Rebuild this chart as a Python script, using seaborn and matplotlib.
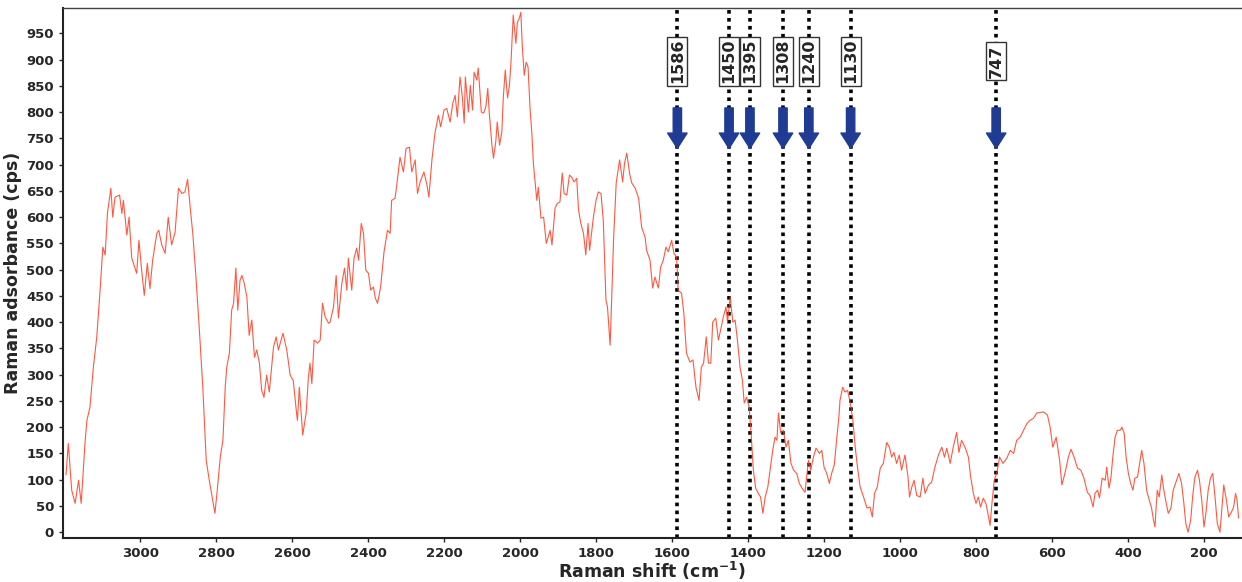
import numpy as np
import pandas as pd
import matplotlib
matplotlib.use("Agg")
import matplotlib.pyplot as plt
import seaborn as sns

# spectrum, in pieces (Raman shift cm-1 / counts)
shift_a = [3195, 3189, 3180, 3171, 3162, 3155, 3145, 3140, 3132, 3123,
           3114, 3105, 3098, 3092, 3086, 3077, 3072, 3066, 3054, 3048,
           3044, 3035, 3029, 3022, 3009, 3003, 2996, 2989, 2981, 2974,
           2967, 2956, 2951, 2943, 2934, 2926, 2917, 2908, 2899, 2890,
           2882, 2875, 2867, 2861, 2853, 2844, 2835, 2826, 2818, 2809,
           2803, 2797, 2789, 2782, 2776, 2772, 2765, 2759, 2754, 2748,
           2743, 2737, 2732, 2726, 2719, 2713, 2706, 2699, 2693, 2686,
           2680, 2674, 2667, 2660, 2649, 2642, 2636, 2624, 2614, 2605,
           2597, 2589, 2586, 2581, 2572, 2563, 2557, 2553, 2548, 2542,
           2533, 2526, 2520, 2513, 2504]
counts_a = [109, 169, 80, 55, 99, 55, 170, 213, 238, 314,
            372, 464, 543, 528, 607, 655, 600, 638, 642, 607,
            632, 566, 600, 522, 493, 556, 499, 451, 512, 464,
            518, 569, 575, 547, 531, 600, 547, 571, 655, 645,
            648, 672, 610, 566, 486, 385, 276, 137, 99, 61,
            36, 80, 143, 175, 276, 314, 341, 423, 436, 503,
            423, 480, 489, 474, 448, 375, 404, 333, 347, 322,
            270, 257, 299, 267, 352, 372, 347, 379, 347, 299,
            289, 232, 213, 276, 185, 227, 295, 322, 283, 366,
            360, 366, 436, 410, 398]

shift_b = [2500, 2491, 2484, 2478, 2469, 2462, 2456, 2452, 2443, 2437,
           2430, 2425, 2418, 2412, 2406, 2399, 2393, 2386, 2381, 2375,
           2367, 2358, 2349, 2342, 2338, 2329, 2324, 2316, 2307, 2300,
           2291, 2285, 2276, 2270, 2263, 2253, 2245, 2240, 2232, 2224,
           2215, 2209, 2200, 2193, 2184, 2177, 2171, 2165, 2158, 2152,
           2147, 2144, 2136, 2131, 2125, 2121, 2114, 2110, 2102, 2096,
           2090, 2085, 2081, 2074, 2070, 2064, 2060, 2054, 2048, 2044,
           2039, 2033, 2028, 2024, 2018, 2011, 2007, 2002, 1998, 1994,
           1989, 1984, 1979, 1974, 1969, 1965, 1956, 1952, 1945, 1938,
           1931, 1921, 1916, 1908, 1902, 1895, 1889, 1884, 1877, 1870,
           1864, 1858, 1851, 1846, 1840, 1833, 1827, 1821, 1817, 1811]
counts_b = [400, 429, 489, 408, 474, 503, 461, 522, 461, 522,
            541, 518, 588, 569, 499, 493, 461, 467, 446, 436,
            467, 534, 575, 569, 632, 636, 664, 714, 686, 731,
            733, 686, 709, 645, 667, 686, 661, 638, 709, 760,
            794, 772, 804, 807, 781, 817, 832, 791, 867, 829,
            779, 867, 800, 851, 804, 876, 861, 884, 800, 798,
            810, 845, 798, 737, 712, 743, 781, 737, 762, 829,
            880, 827, 851, 893, 985, 931, 971, 979, 990, 924,
            870, 895, 886, 810, 760, 703, 632, 657, 598, 600,
            550, 575, 547, 617, 626, 629, 684, 645, 642, 680,
            676, 667, 674, 613, 588, 569, 528, 588, 537, 575]

shift_c = [1807, 1800, 1794, 1787, 1781, 1774, 1770, 1763, 1759, 1754,
           1747, 1738, 1730, 1725, 1719, 1712, 1706, 1697, 1688, 1680,
           1671, 1667, 1658, 1651, 1645, 1636, 1630, 1623, 1616, 1610,
           1601, 1595, 1588, 1584, 1575, 1569, 1562, 1553, 1545, 1537,
           1529, 1523, 1517, 1510, 1504, 1498, 1493, 1485, 1478, 1471,
           1465, 1458, 1454, 1447, 1440, 1434, 1428, 1421, 1415, 1410,
           1404, 1397, 1392, 1386, 1380, 1373, 1367, 1361, 1355, 1348,
           1342, 1335, 1329, 1324, 1320, 1314, 1307, 1300, 1294, 1287,
           1280, 1272, 1265, 1258, 1250, 1241, 1235, 1228, 1221, 1212,
           1206, 1200, 1193, 1186, 1180, 1173, 1167, 1161]
counts_c = [600, 632, 648, 645, 594, 442, 429, 356, 442, 556,
            665, 709, 667, 703, 722, 684, 665, 655, 636, 581,
            562, 537, 518, 465, 486, 465, 505, 518, 543, 534,
            556, 531, 524, 461, 455, 417, 341, 324, 328, 276,
            251, 314, 322, 372, 322, 322, 400, 408, 366, 389,
            410, 429, 400, 448, 400, 404, 366, 314, 290, 246,
            257, 238, 189, 118, 84, 74, 67, 36, 67, 86,
            118, 156, 181, 175, 227, 189, 194, 162, 175, 131,
            118, 112, 93, 84, 76, 137, 118, 143, 160, 150,
            156, 124, 112, 93, 112, 128, 175, 219]

shift_d = [1158, 1151, 1145, 1138, 1131, 1124, 1118, 1112, 1105, 1096,
           1087, 1079, 1073, 1067, 1060, 1052, 1044, 1035, 1028, 1022,
           1016, 1009, 1002, 996, 987, 979, 975, 969, 963, 956,
           947, 940, 934, 925, 917, 908, 899, 890, 883, 877,
           868, 860, 851, 845, 838, 829, 820, 814, 807, 800,
           794, 788, 781, 774, 767, 763, 759, 752, 745, 738,
           729, 719, 710, 701, 693, 684, 675, 666, 658, 649,
           640]
counts_d = [251, 276, 267, 270, 246, 213, 162, 124, 86, 67,
            46, 48, 29, 74, 86, 122, 131, 171, 162, 143,
            152, 131, 147, 118, 147, 105, 67, 86, 99, 70,
            67, 103, 74, 90, 95, 124, 147, 162, 143, 160,
            131, 162, 190, 152, 175, 162, 143, 105, 74, 55,
            67, 48, 65, 55, 29, 13, 48, 99, 114, 143,
            131, 141, 156, 150, 175, 181, 194, 207, 213, 217,
            227]

shift_e = [622, 612, 605, 598, 589, 580, 574, 566, 557, 550,
           542, 533, 524, 516, 507, 500, 492, 487, 480, 475,
           468, 460, 456, 450, 445, 440, 434, 428, 421, 416,
           410, 405, 399, 393, 387, 382, 375, 368, 364, 358,
           351, 344, 338, 333, 329, 326, 323, 318, 311, 307,
           301, 294, 287, 281, 274, 266, 259, 253, 248, 242,
           235, 230, 224, 217, 212, 206, 200, 195, 189, 183,
           177, 171, 165, 158, 154, 148, 141, 135, 128, 122,
           117, 113, 109]
counts_e = [229, 223, 200, 162, 181, 137, 90, 112, 143, 158,
            143, 122, 118, 103, 76, 70, 48, 74, 80, 65,
            103, 99, 124, 84, 103, 143, 181, 194, 194, 200,
            188, 143, 112, 93, 80, 103, 105, 137, 156, 131,
            80, 61, 46, 23, 10, 48, 80, 67, 109, 86,
            61, 36, 46, 80, 95, 112, 93, 55, 17, 0,
            23, 67, 105, 118, 99, 61, 10, 36, 80, 103,
            112, 67, 17, 0, 36, 90, 61, 29, 38, 48,
            74, 61, 27]

peaks = [1586, 1450, 1395, 1308, 1240, 1130, 747]
peak_labels = ["1586", "1450", "1395", "1308", "1240", "1130", "747"]

xticks = [3000, 2800, 2600, 2400, 2200, 2000, 1800, 1600, 1400, 1200, 1000, 800, 600, 400, 200]
yticks = list(range(0, 1000, 50))

spec = pd.DataFrame({
    "shift": np.concatenate([shift_a, shift_b, shift_c, shift_d, shift_e]),
    "counts": np.concatenate([counts_a, counts_b, counts_c, counts_d, counts_e]),
})

sns.set_style("ticks")
plt.rcParams["font.family"] = ["DejaVu Sans"]
plt.rcParams["mathtext.default"] = "bf"

fig = plt.figure(figsize=(12.42, 5.82), dpi=100)
ax = fig.add_axes([0.0507, 0.0756, 0.9493, 0.9104])

# dotted peak markers first so the spectrum sits on top
for p in peaks:
    ax.axvline(p, color="black", ls=(0, (1, 1.2)), lw=2.6, zorder=1)

sns.lineplot(data=spec, x="shift", y="counts", sort=False, estimator=None,
             color="#ff3b20", lw=0.8, alpha=0.85, ax=ax, zorder=3)

for p, lab in zip(peaks, peak_labels):
    ax.text(p, 897, lab, rotation=90, ha="center", va="center",
            fontsize=11.5, fontweight="bold", zorder=5,
            bbox=dict(boxstyle="square,pad=0.15", fc="white", ec="#333333", lw=1))
    ax.annotate("", xy=(p, 731), xytext=(p, 808), zorder=5,
                arrowprops=dict(facecolor="#1f3b94", edgecolor="#1f3b94",
                                width=6, headwidth=14, headlength=11, shrink=0))

ax.set_xlim(3203, 100)
ax.set_ylim(-11, 998)
ax.set_xticks(xticks)
ax.set_yticks(yticks)
ax.tick_params(labelsize=9.5, length=3, width=1)
for t in ax.get_xticklabels() + ax.get_yticklabels():
    t.set_fontweight("bold")

ax.set_xlabel(r"Raman shift (cm$^{-1}$)", fontsize=12.5, fontweight="bold", labelpad=0)
ax.set_ylabel("Raman adsorbance (cps)", fontsize=12.5, fontweight="bold", labelpad=3)

ax.spines["right"].set_visible(False)
ax.spines["left"].set_linewidth(1.5)
ax.spines["bottom"].set_linewidth(1.5)
ax.spines["left"].set_color("#222222")
ax.spines["bottom"].set_color("#222222")
ax.spines["top"].set_color("#444444")
ax.spines["top"].set_linewidth(1)

fig.savefig("out.png", dpi=100)
